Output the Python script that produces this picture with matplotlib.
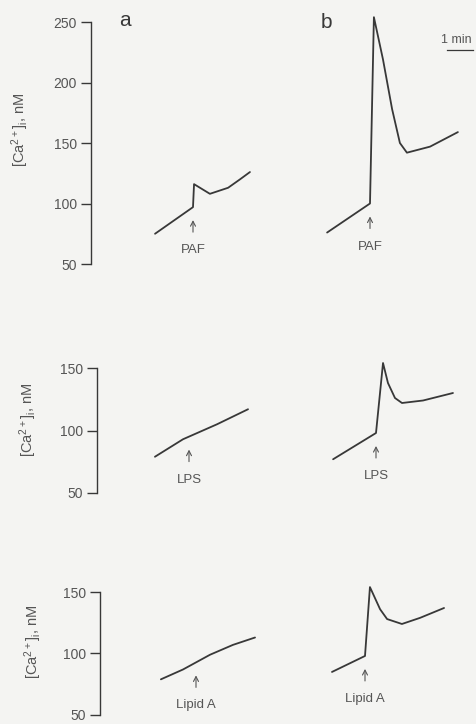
import numpy as np
import matplotlib
matplotlib.use("Agg")
import matplotlib.pyplot as plt

# ---- recorded traces: time relative to stimulus (min), [Ca2+]i (nM) ----
paf_a_t = [-1.46, 0.0, 0.04, 0.65, 1.35, 1.81, 2.19]
paf_a_ca = [75, 97, 116, 108, 113, 120, 126]

paf_b_t = [-1.65, 0.0, 0.15, 0.5, 0.85, 1.15, 1.42, 2.31, 3.38]
paf_b_ca = [76, 100, 254, 219, 178, 150, 142, 147, 159]

lps_a_t = [-1.31, -0.23, 1.08, 2.27]
lps_a_ca = [79, 93, 105, 117]

lps_b_t = [-1.65, 0.0, 0.27, 0.46, 0.73, 1.0, 1.81, 2.96]
lps_b_ca = [77, 98, 154, 138, 126, 122, 124, 130]

lipa_a_t = [-1.35, -0.5, 0.54, 1.42, 2.27]
lipa_a_ca = [79, 87, 99, 107, 113]

lipa_b_t = [-1.27, 0.0, 0.19, 0.58, 0.85, 1.42, 2.12, 3.04]
lipa_b_ca = [85, 98, 154, 136, 128, 124, 129, 137]

stimuli = ["PAF", "LPS", "Lipid A"]
top_ticks = [50, 100, 150, 200, 250]
lower_ticks = [50, 100, 150]
column_letters = ["a", "b"]
scale_label = "1 min"

# ---- layout (figure pixels) ----
W, H, DPI = 477, 724, 100
PX_PER_MIN = 26.0
BG = "#f4f4f2"
INK = "#383838"
TXT = "#555555"

plt.rcParams["font.family"] = ["Liberation Sans", "DejaVu Sans"]
plt.rcParams["mathtext.fontset"] = "custom"
plt.rcParams["mathtext.rm"] = "Liberation Sans"
plt.rcParams["mathtext.it"] = "Liberation Sans:italic"

panels = [
    dict(axis_px=91, lo=50, hi=250, lo_px=264, hi_px=22, ylim=(40, 262),
         ticks=top_ticks, stim_px=(193, 370),
         traces=((paf_a_t, paf_a_ca), (paf_b_t, paf_b_ca)), name=stimuli[0],
         bar=(447, 473, 50), ylab=(20, 130)),
    dict(axis_px=97, lo=50, hi=150, lo_px=493, hi_px=368, ylim=(40, 160),
         ticks=lower_ticks, stim_px=(189, 376),
         traces=((lps_a_t, lps_a_ca), (lps_b_t, lps_b_ca)), name=stimuli[1],
         bar=(447, 473, 332), ylab=(28, 420)),
    dict(axis_px=100, lo=50, hi=150, lo_px=715, hi_px=592, ylim=(40, 160),
         ticks=lower_ticks, stim_px=(196, 365),
         traces=((lipa_a_t, lipa_a_ca), (lipa_b_t, lipa_b_ca)), name=stimuli[2],
         bar=(435, 460, 553), ylab=(33, 642)),
]

fig = plt.figure(figsize=(W / DPI, H / DPI), dpi=DPI, facecolor=BG)

PT = 72.0 / DPI  # points per pixel
ARROW_GAP, ARROW_LEN, LABEL_DROP = 13, 12, 18

for p in panels:
    scale = (p["lo_px"] - p["hi_px"]) / (p["hi"] - p["lo"])
    y0, y1 = p["ylim"]
    bottom_px = p["lo_px"] + (p["lo"] - y0) * scale
    top_px = p["hi_px"] - (y1 - p["hi"]) * scale
    left = p["axis_px"]
    ax = fig.add_axes([left / W, 1 - bottom_px / H, (W - left) / W,
                       (bottom_px - top_px) / H])
    ax.set_facecolor("none")
    ax.set_xlim(0, (W - left) / PX_PER_MIN)
    ax.set_ylim(y0, y1)
    for s in ("top", "right", "bottom"):
        ax.spines[s].set_visible(False)
    ax.spines["left"].set_bounds(p["lo"], p["hi"])
    ax.spines["left"].set_color(INK)
    ax.spines["left"].set_linewidth(1.0)
    ax.set_xticks([])
    ax.set_yticks(p["ticks"])
    ax.tick_params(axis="y", direction="out", length=7, width=1.0, color=INK,
                   labelsize=10, labelcolor=TXT, pad=3)

    for (t, ca), spx in zip(p["traces"], p["stim_px"]):
        off = (spx - left) / PX_PER_MIN
        ax.plot(np.asarray(t) + off, ca, color=INK, lw=1.3,
                solid_joinstyle="round", solid_capstyle="round")
        v0 = float(np.interp(0.0, t, ca))
        ax.annotate("", xy=(off, v0),
                    xytext=(0, -(ARROW_GAP + ARROW_LEN) * PT),
                    textcoords="offset points",
                    arrowprops=dict(arrowstyle="->,head_length=0.35,head_width=0.18",
                                    color=TXT, lw=0.8, shrinkA=0,
                                    shrinkB=ARROW_GAP * PT))
        ax.annotate(p["name"], xy=(off, v0),
                    xytext=(0, -(ARROW_GAP + ARROW_LEN + LABEL_DROP) * PT),
                    textcoords="offset points", ha="center", va="center",
                    fontsize=9.5, color=TXT)

    # 1-minute scale bar
    inv = ax.transData.inverted()
    bx0, by = inv.transform((p["bar"][0], H - p["bar"][2]))
    ax.plot([bx0, bx0 + 1.0], [by, by], color=INK, lw=0.9)
    ax.annotate(scale_label, xy=(bx0 + 0.5, by), xytext=(-3, 3),
                textcoords="offset points", ha="center", va="bottom",
                fontsize=9, color=TXT)

    fig.text(p["ylab"][0] / W, 1 - p["ylab"][1] / H,
             r"[Ca$^{2+}$]$_\mathrm{i}$, nM", rotation=90,
             ha="center", va="center", fontsize=10.5, color=TXT)

fig.text(125 / W, 1 - 20 / H, column_letters[0], ha="center", va="center",
         fontsize=15, color=INK)
fig.text(326 / W, 1 - 22 / H, column_letters[1], ha="center", va="center",
         fontsize=15, color=INK)

fig.savefig("out.png", dpi=DPI, facecolor=BG)
